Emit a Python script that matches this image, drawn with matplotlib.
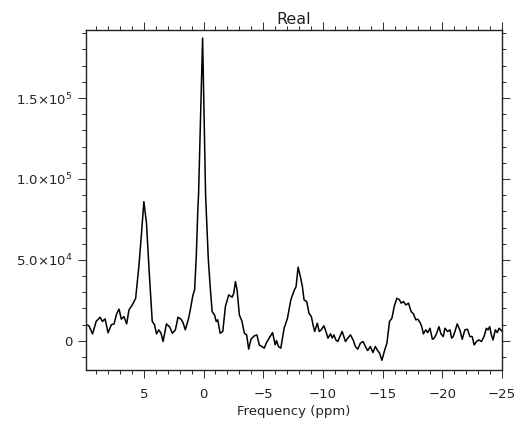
import numpy as np
import matplotlib
matplotlib.use("Agg")
import matplotlib.pyplot as plt
from matplotlib.ticker import MultipleLocator

# spectrum: ppm, intensity in units of 1e4
ppm = [9.83, 9.6, 9.3, 9.0, 8.67, 8.47, 8.25, 8.0, 7.72, 7.5, 7.28, 7.08, 6.89, 6.67,
       6.44, 6.25, 5.97, 5.69, 5.42, 5.22, 5.0, 4.78, 4.58, 4.3, 4.11, 3.94, 3.75, 3.56,
       3.39, 3.11, 2.83, 2.61, 2.36, 2.14, 1.89, 1.72, 1.53, 1.25, 1.06, 0.9, 0.75, 0.61,
       0.47, 0.42, 0.08, -0.17, -0.4, -0.58, -0.72, -0.92, -1.06, -1.19, -1.39, -1.61,
       -1.83, -2.11, -2.39, -2.53, -2.67, -2.81, -3.0, -3.22, -3.42, -3.61, -3.78, -3.97,
       -4.25, -4.47, -4.67, -4.89, -5.08, -5.28, -5.5, -5.78, -6.0, -6.11, -6.28, -6.47,
       -6.75, -7.03, -7.31, -7.58, -7.75, -7.92, -8.14, -8.28, -8.42, -8.64, -8.83, -9.03,
       -9.19, -9.31, -9.53, -9.69, -9.86, -10.08, -10.25, -10.42, -10.64, -10.78, -10.92,
       -11.08, -11.25, -11.42, -11.61, -11.75, -11.89, -12.08, -12.31, -12.53, -12.72,
       -12.92, -13.14, -13.36, -13.56, -13.75, -13.97, -14.19, -14.39, -14.58, -14.75,
       -14.94, -15.14, -15.36, -15.58, -15.78, -15.97, -16.19, -16.4, -16.56, -16.75,
       -16.94, -17.17, -17.39, -17.58, -17.78, -17.94, -18.14, -18.28, -18.42, -18.61,
       -18.78, -18.97, -19.17, -19.33, -19.53, -19.72, -19.89, -20.08, -20.22, -20.44,
       -20.64, -20.78, -20.92, -21.06, -21.25, -21.47, -21.67, -21.89, -22.11, -22.31,
       -22.5, -22.67, -22.86, -23.06, -23.28, -23.5, -23.69, -23.83, -23.97, -24.11,
       -24.25, -24.44, -24.61, -24.75, -25.0]
real_1e4 = [1.0, 0.93, 0.43, 1.2, 1.46, 1.2, 1.36, 0.5, 1.0, 1.05, 1.67, 1.96, 1.34, 1.5,
            1.05, 1.91, 2.22, 2.63, 4.59, 6.44, 8.6, 7.26, 4.59, 1.2, 1.0, 0.43, 0.68, 0.47,
            -0.04, 1.05, 0.85, 0.47, 0.68, 1.46, 1.34, 1.13, 0.68, 1.4, 2.12, 2.8, 3.15, 5.2,
            8.3, 9.0, 18.7, 9.0, 5.0, 3.1, 1.81, 1.6, 1.2, 1.3, 0.47, 0.58,
            2.12, 2.84, 2.7, 2.94, 3.66, 3.15, 1.6, 1.2, 0.47, 0.37, -0.51, 0.1,
            0.31, 0.37, -0.25, -0.35, -0.45, -0.1, 0.17, 0.51, -0.25, 0.02, -0.35, -0.45,
            0.78, 1.4, 2.53, 3.1, 3.35, 4.55, 3.87, 3.35, 2.53, 2.43, 1.71, 1.5,
            0.93, 0.58, 1.09, 0.58, 0.68, 0.93, 0.58, 0.17, 0.43, 0.17, 0.37,
            0.06, -0.04, 0.27, 0.58, 0.27, -0.04, 0.17, 0.37, 0.06, -0.35,
            -0.51, -0.14, -0.04, -0.35, -0.6, -0.35, -0.72, -0.35, -0.6, -0.76,
            -1.2, -0.66, -0.14, 1.2, 1.4, 2.12, 2.63, 2.55, 2.33, 2.43,
            2.22, 2.33, 1.81, 1.67, 1.3, 1.34, 1.13, 0.88, 0.43, 0.68,
            0.51, 0.78, 0.1, 0.17, 0.47, 0.88, 0.43, 0.27, 0.78, 0.58,
            0.68, 0.17, 0.27, 0.58, 1.05, 0.68, 0.1, 0.68, 0.72, 0.27,
            0.27, -0.25, -0.04, 0.06, -0.04, 0.27, 0.78, 0.68, 0.88, 0.37,
            0.06, 0.68, 0.51, 0.78, 0.6]

ytick_vals = [0, 5e4, 1e5, 1.5e5]
ytick_labels = ["0", r"5.0$\times$10$^4$", r"1.0$\times$10$^5$", r"1.5$\times$10$^5$"]

intensity = np.array(real_1e4) * 1e4

fig = plt.figure(figsize=(5.23, 4.21), dpi=100)
ax = fig.add_axes([0.1644, 0.1211, 0.7954, 0.8076])
ax.plot(ppm, intensity, color="black", lw=1.1)

ax.set_xlim(9.85, -25)
ax.set_ylim(-1.8e4, 1.92e5)
ax.xaxis.set_major_locator(MultipleLocator(5))
ax.xaxis.set_minor_locator(MultipleLocator(1))
ax.set_yticks(ytick_vals)
ax.set_yticklabels(ytick_labels)
ax.yaxis.set_minor_locator(MultipleLocator(1e4))

ax.tick_params(which="both", direction="out", top=True, right=True,
               labelsize=9.5, width=0.75, color="#333333", labelcolor="#222222")
ax.tick_params(which="major", length=6)
ax.tick_params(which="minor", length=3)
ax.tick_params(axis="x", pad=7)
ax.tick_params(axis="y", pad=4)
for sp in ax.spines.values():
    sp.set_linewidth(1.0)
    sp.set_color("#222222")

ax.set_xlabel("Frequency (ppm)", fontsize=9.5, labelpad=3, color="#222222")
fig.text(0.562, 0.943, "Real", ha="center", va="baseline", fontsize=11.5, color="#222222")

fig.savefig("out.png", dpi=100)
